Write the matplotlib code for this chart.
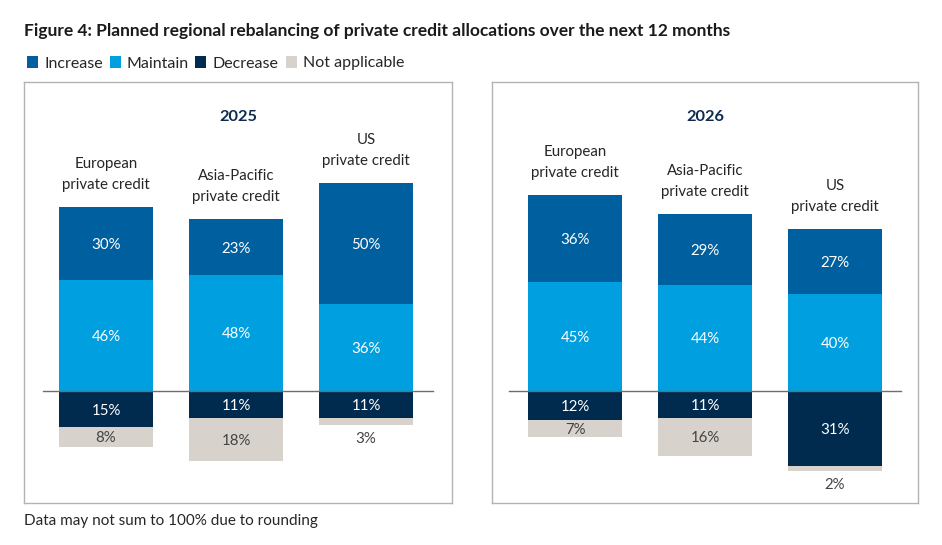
import matplotlib
matplotlib.use("Agg")
import matplotlib.pyplot as plt
from matplotlib.patches import Rectangle

plt.rcParams['font.family'] = ['Lato', 'DejaVu Sans']

title = "Figure 4: Planned regional rebalancing of private credit allocations over the next 12 months"
footnote = "Data may not sum to 100% due to rounding"
series_names = ["Increase", "Maintain", "Decrease", "Not applicable"]
categories = ["European\nprivate credit", "Asia-Pacific\nprivate credit", "US\nprivate credit"]
years = ["2025", "2026"]

increase_2025 = [30, 23, 50]
maintain_2025 = [46, 48, 36]
decrease_2025 = [15, 11, 11]
na_2025 = [8, 18, 3]

increase_2026 = [36, 29, 27]
maintain_2026 = [45, 44, 40]
decrease_2026 = [12, 11, 31]
na_2026 = [7, 16, 2]

panels = [
    (increase_2025, maintain_2025, decrease_2025, na_2025),
    (increase_2026, maintain_2026, decrease_2026, na_2026),
]

c_inc = "#005f9e"
c_main = "#009fdf"
c_dec = "#002a4e"
c_na = "#d7d2cc"
c_text = "#262626"
c_year = "#0d2b4f"

W, H = 942, 545
fig = plt.figure(figsize=(W / 100, H / 100), dpi=100)

# panel layout in pixels: (left, right, first bar center, zero-line left, zero-line right)
layouts = [(24, 452, 106, 43, 433), (492, 918, 575, 509, 901)]
top_px, bot_px, zero_px = 82, 503, 391
px_per_pct = 2.42
spacing = 130.0
bar_w = 94 / spacing

for (inc, mai, dec, na), year, (lp, rp, c0, zl, zr) in zip(panels, years, layouts):
    ax = fig.add_axes([lp / W, (H - bot_px) / H, (rp - lp) / W, (bot_px - top_px) / H])
    ax.set_xlim((lp - c0) / spacing, 2 + (rp - (c0 + 2 * spacing)) / spacing)
    ax.set_ylim(-(bot_px - zero_px) / px_per_pct, (zero_px - top_px) / px_per_pct)
    for s in ax.spines.values():
        s.set_color("#b3b3b3")
        s.set_linewidth(1.0)
    ax.set_xticks([])
    ax.set_yticks([])

    x = list(range(len(categories)))
    ax.bar(x, mai, width=bar_w, color=c_main, zorder=2)
    ax.bar(x, inc, bottom=mai, width=bar_w, color=c_inc, zorder=2)
    ax.bar(x, [-d for d in dec], width=bar_w, color=c_dec, zorder=2)
    ax.bar(x, [-n for n in na], bottom=[-d for d in dec], width=bar_w, color=c_na, zorder=2)

    ax.plot([(zl - c0) / spacing, (zr - c0) / spacing], [0, 0], color="#6e6e6e", lw=1.0, zorder=3)

    fs = 10.8
    for i in x:
        ax.text(i, mai[i] + inc[i] / 2, f"{inc[i]}%", ha="center", va="center_baseline", color="white", fontsize=fs, zorder=4)
        ax.text(i, mai[i] / 2, f"{mai[i]}%", ha="center", va="center_baseline", color="white", fontsize=fs, zorder=4)
        ax.text(i, -dec[i] / 2, f"{dec[i]}%", ha="center", va="center_baseline", color="white", fontsize=fs, zorder=4)
        if na[i] >= 5:
            ax.text(i, -dec[i] - na[i] / 2, f"{na[i]}%", ha="center", va="center_baseline", color="#444444", fontsize=fs, zorder=4)
        else:
            ax.annotate(f"{na[i]}%", (i, -dec[i] - na[i]), xytext=(0, -13), textcoords="offset pixels",
                        ha="center", va="center_baseline", color="#444444", fontsize=fs, zorder=4)
        ax.annotate(categories[i], (i, mai[i] + inc[i]), xytext=(0, 15), textcoords="offset pixels",
                    ha="center", va="bottom", color=c_text, fontsize=fs, linespacing=1.65)

    ax.text(0.5, 1 - 35 / (bot_px - top_px), year, transform=ax.transAxes, ha="center", va="center",
            fontsize=11.8, fontweight="bold", color=c_year)

fig.text(24 / W, 1 - 31 / H, title, ha="left", va="center", fontsize=12.5, fontweight="bold", color="#1a1a1a")
fig.text(24 / W, 1 - 521 / H, footnote, ha="left", va="center", fontsize=11, color=c_text)

# legend: manual placement of swatches and labels
leg_sq_x = [27, 110, 195, 286]
leg_y = 62
for name, col, sx in zip(series_names, (c_inc, c_main, c_dec, c_na), leg_sq_x):
    fig.patches.append(Rectangle((sx / W, 1 - (leg_y + 5.5) / H), 11 / W, 11 / H,
                                 transform=fig.transFigure, facecolor=col, edgecolor="none"))
    fig.text((sx + 17) / W, 1 - leg_y / H, name, ha="left", va="center_baseline", fontsize=11.5, color=c_text)

fig.savefig("out.png", dpi=100)
